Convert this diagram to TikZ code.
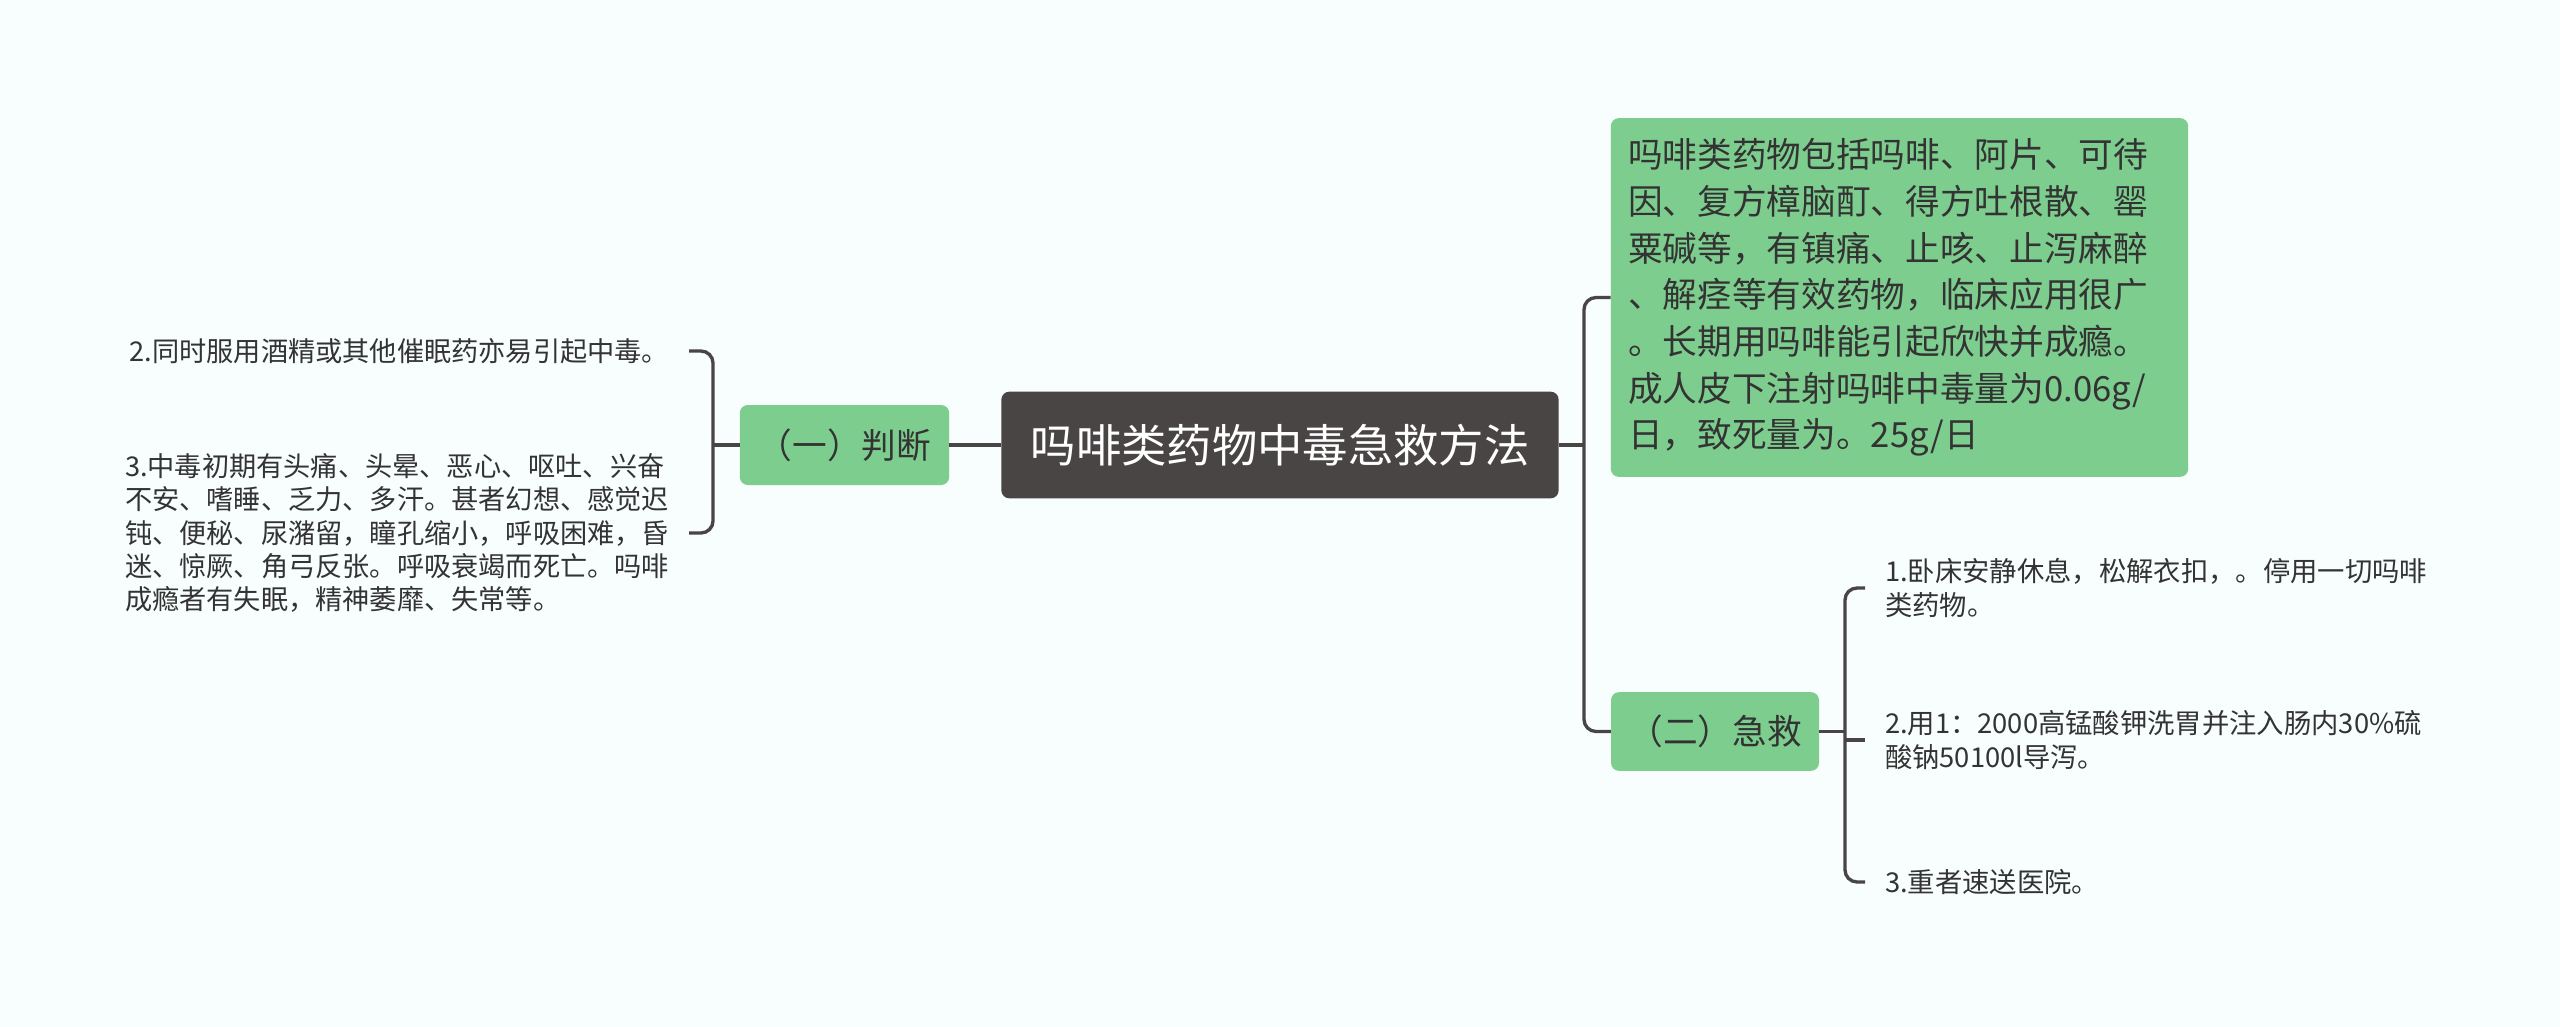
\documentclass[tikz,border=0pt]{standalone}
\usepackage{fontspec}
\setmainfont{Noto Sans CJK SC}
\usepackage{xcolor}
\definecolor{rootgrey}{RGB}{74, 69, 69}
\definecolor{topicgreen}{RGB}{125, 205, 143}
\definecolor{inkgrey}{RGB}{51, 51, 51}
\definecolor{paperwhite}{RGB}{248, 253, 253}
\usetikzlibrary{positioning, calc}

\begin{document}
\begin{tikzpicture}[x=0.75pt, y=-0.75pt,
    rootbox/.style={fill=rootgrey, rounded corners=6pt, text=white, font=\fontsize{34}{40}\selectfont, minimum width=418pt, minimum height=80pt, inner sep=0pt},
    topicbox/.style={fill=topicgreen, rounded corners=6pt, text=inkgrey, font=\fontsize{26}{35}\selectfont, inner sep=0pt},
    leafnote/.style={text=inkgrey, align=left, inner sep=0pt, outer xsep=15pt},
    link/.style={rootgrey, line width=2.5pt, rounded corners=9pt}]
    % Page
    \fill [paperwhite] (0,0) rectangle (2560,1027);

    % Root and topics
    \node [rootbox] (root) at (1280,445) {吗啡类药物中毒急救方法};
    \node [topicbox, minimum width=157pt, minimum height=60pt] (judge) at (844.5,445) {（一）判断};
    \node [topicbox, minimum width=433pt, minimum height=269pt, text width=407pt, align=left] (desc) at (1899.5,297.5) {吗啡类药物包括吗啡、阿片、可待\\因、复方樟脑酊、得方吐根散、罂\\粟碱等，有镇痛、止咳、止泻麻醉\\、解痉等有效药物，临床应用很广\\。长期用吗啡能引起欣快并成瘾。\\成人皮下注射吗啡中毒量为0.06g/\\日，致死量为。25g/日};
    \node [topicbox, minimum width=156pt, minimum height=59pt] (rescue) at (1715,731.5) {（二）急救};

    % Leaves of (一)
    \node [leafnote, anchor=east, font=\fontsize{20.4}{24.9}\selectfont] (drink) at (689,351) {2.同时服用酒精或其他催眠药亦易引起中毒。};
    \node [leafnote, anchor=east, font=\fontsize{20.4}{24.9}\selectfont] (signs) at (689,533) {3.中毒初期有头痛、头晕、恶心、呕吐、兴奋\\不安、嗜睡、乏力、多汗。甚者幻想、感觉迟\\钝、便秘、尿潴留，瞳孔缩小，呼吸困难，昏\\迷、惊厥、角弓反张。呼吸衰竭而死亡。吗啡\\成瘾者有失眠，精神萎靡、失常等。};

    % Leaves of (二)
    \node [leafnote, anchor=west, font=\fontsize{20.5}{25.5}\selectfont] (rest) at (1865,588) {1.卧床安静休息，松解衣扣，。停用一切吗啡\\类药物。};
    \node [leafnote, anchor=west, font=\fontsize{20.5}{25.5}\selectfont] (wash) at (1865,740) {2.用1：2000高锰酸钾洗胃并注入肠内30\%硫\\酸钠50100l导泻。};
    \node [leafnote, anchor=west, font=\fontsize{20.5}{25.5}\selectfont] (hosp) at (1865,882) {3.重者速送医院。};

    % Connectors
    \coordinate (lspine) at (713,445);
    \coordinate (rspine) at (1584,445);
    \coordinate (aspine) at (1845,731.5);
    \draw [link] (root.west) -- (judge.east);
    \draw [link] (judge.west) -- (lspine);
    \draw [link] (drink.east) -| (lspine) |- (signs.east);
    \draw [link] (root.east) -- (rspine);
    \draw [link] (desc.west) -| (rspine) |- (rescue.west);
    \draw [link] (rescue.east) -- (aspine);
    \draw [link] (rest.west) -| (aspine) |- (hosp.west);
    \draw [link] (wash.west) -- (wash.west -| aspine);
\end{tikzpicture}
\end{document}
